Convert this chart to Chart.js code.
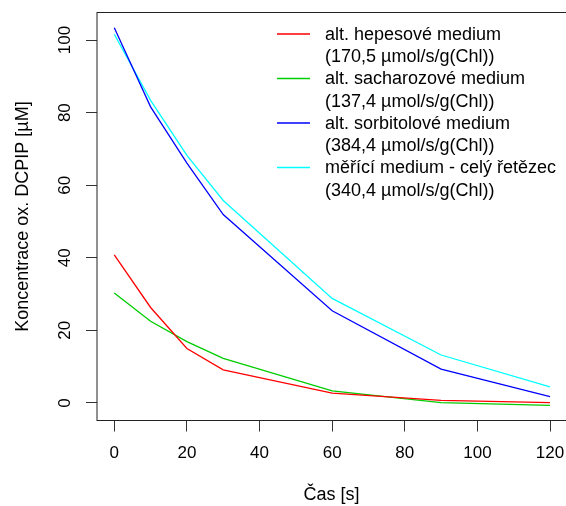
<!DOCTYPE html>
<html>
<head>
<meta charset="utf-8">
<script src="https://cdn.jsdelivr.net/npm/chart.js@4"></script>
<style>
  html, body { margin: 0; padding: 0; background: #fff; }
  #wrap { width: 566px; height: 506px; position: relative; }
</style>
</head>
<body>
<div id="wrap"><canvas id="dcpipChart"></canvas></div>
<script>
// time points [s]
const casS = [0, 10, 20, 30, 60, 90, 120];

// ox. DCPIP concentration [uM]
const hepesove = [40.8, 26.3, 15.0, 9.1, 2.7, 0.7, 0.1];
const sacharozove = [30.3, 22.5, 16.9, 12.3, 3.3, 0.1, -0.7];
const sorbitolove = [103.4, 81.6, 66.1, 51.9, 25.4, 9.3, 1.7];
const celyRetezec = [101.6, 83.4, 68.2, 55.8, 28.8, 13.2, 4.4];

const seriesNames = [
    ["alt. hepesové medium", "(170,5 µmol/s/g(Chl))"],
    ["alt. sacharozové medium", "(137,4 µmol/s/g(Chl))"],
    ["alt. sorbitolové medium", "(384,4 µmol/s/g(Chl))"],
    ["měřící medium - celý řetězec", "(340,4 µmol/s/g(Chl))"]
];
const seriesColors = ["#ff0000", "#00cd00", "#0000ff", "#00ffff"];

const xTicks = [0, 20, 40, 60, 80, 100, 120];
const yTicks = [0, 20, 40, 60, 80, 100];

const FONT = "'Liberation Sans', Arial, Helvetica, sans-serif";

function toPoints(ys) {
    return casS.map((t, i) => ({ x: t, y: ys[i] }));
}

const allSeries = [hepesove, sacharozove, sorbitolove, celyRetezec];

// box, rotated y labels and legend the way R draws them
const rPlotExtras = {
    id: "rPlotExtras",
    afterDraw(chart) {
        const ctx = chart.ctx;
        const a = chart.chartArea;
        ctx.save();
        ctx.strokeStyle = "#222";
        ctx.lineWidth = 1;
        ctx.strokeRect(a.left, a.top, a.right - a.left + 2, a.bottom - a.top);

        // y tick labels, parallel to the axis
        const ys = chart.scales.y;
        ctx.fillStyle = "#000";
        ctx.font = "17px " + FONT;
        ctx.textAlign = "center";
        ctx.textBaseline = "middle";
        ys.ticks.forEach(t => {
            const py = ys.getPixelForValue(t.value);
            ctx.save();
            ctx.translate(65, py);
            ctx.rotate(-Math.PI / 2);
            ctx.fillText(String(t.value), 0, 0);
            ctx.restore();
        });

        // legend
        ctx.font = "18px " + FONT;
        ctx.textAlign = "left";
        chart.data.datasets.forEach((ds, i) => {
            const rowY = 35 + i * 44.5;
            ctx.strokeStyle = ds.borderColor;
            ctx.lineWidth = 1.3;
            ctx.beginPath();
            ctx.moveTo(277, rowY - 1);
            ctx.lineTo(310, rowY - 1);
            ctx.stroke();
            ds.nameLines.forEach((line, j) => {
                ctx.fillText(line, 325, rowY + j * 22.4);
            });
        });
        ctx.restore();
    }
};

const ctx = document.getElementById("dcpipChart").getContext("2d");
new Chart(ctx, {
    type: "line",
    data: {
        datasets: allSeries.map((s, i) => ({
            label: seriesNames[i].join(" "),
            nameLines: seriesNames[i],
            data: toPoints(s),
            borderColor: seriesColors[i],
            backgroundColor: seriesColors[i],
            borderWidth: 1.3,
            pointRadius: 0,
            tension: 0,
            fill: false
        }))
    },
    options: {
        responsive: true,
        maintainAspectRatio: false,
        animation: false,
        devicePixelRatio: 1,
        layout: { padding: { top: 12.5, right: 0, bottom: 0, left: 0 } },
        plugins: {
            legend: { display: false },
            tooltip: { enabled: false }
        },
        scales: {
            x: {
                type: "linear",
                min: -4.76,
                max: 124.4,
                afterBuildTicks: scale => { scale.ticks = xTicks.map(v => ({ value: v })); },
                afterFit: scale => {
                    scale.height = 85.5;
                    scale.paddingLeft = 0;
                    scale.paddingRight = 0;
                },
                grid: { drawOnChartArea: false, drawTicks: true, tickLength: 11, color: "#333", lineWidth: 1 },
                border: { display: false },
                ticks: {
                    color: "#000",
                    font: { family: FONT, size: 17 },
                    padding: 12,
                    maxRotation: 0,
                    autoSkip: false
                },
                title: {
                    display: true,
                    text: "Čas [s]",
                    color: "#000",
                    font: { family: FONT, size: 18 },
                    padding: { top: 0, bottom: 0 }
                }
            },
            y: {
                type: "linear",
                min: -4.85,
                max: 107.6,
                afterBuildTicks: scale => { scale.ticks = yTicks.map(v => ({ value: v })); },
                afterFit: scale => {
                    scale.width = 97;
                    scale.paddingTop = 0;
                    scale.paddingBottom = 0;
                },
                grid: { drawOnChartArea: false, drawTicks: true, tickLength: 11, color: "#333", lineWidth: 1 },
                border: { display: false },
                ticks: { display: false },
                title: {
                    display: true,
                    text: "Koncentrace ox. DCPIP [µM]",
                    color: "#000",
                    font: { family: FONT, size: 18 },
                    padding: { top: 12, bottom: 0 }
                }
            }
        }
    },
    plugins: [rPlotExtras]
});
</script>
</body>
</html>
